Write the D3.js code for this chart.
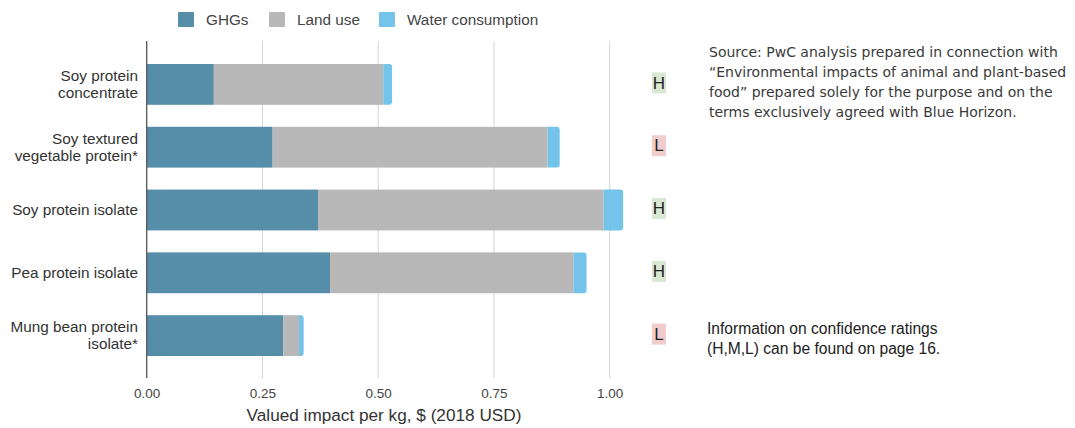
<!DOCTYPE html>
<html>
<head>
<meta charset="utf-8">
<script src="https://cdn.jsdelivr.net/npm/d3@7"></script>
<style>
  html, body { margin: 0; padding: 0; background: #fff; }
  svg { display: block; }
</style>
</head>
<body>
<svg id="chart" width="1075" height="428"></svg>
<script>
// Products, top to bottom
const categories = [
  ["Soy protein", "concentrate"],
  ["Soy textured", "vegetable protein*"],
  ["Soy protein isolate"],
  ["Pea protein isolate"],
  ["Mung bean protein", "isolate*"]
];
// Valued impact per kg, $ (2018 USD), by component
const ghgs  = [0.145, 0.272, 0.370, 0.396, 0.295];
const land  = [0.366, 0.594, 0.617, 0.526, 0.034];
const water = [0.019, 0.026, 0.042, 0.028, 0.010];
// Confidence ratings
const ratings = ["H", "L", "H", "H", "L"];
const seriesNames = ["GHGs", "Land use", "Water consumption"];
const tickValues = [0, 0.25, 0.5, 0.75, 1.0];

const colors = ["#568ea9", "#b8b8b8", "#74c3ea"];
const ratingFill = { H: "#d9e8d3", M: "#f3e3b9", L: "#f1cccd" };
const sans = "'Liberation Sans', Arial, sans-serif";

const svg = d3.select("#chart");
const x = d3.scaleLinear().domain([0, 1]).range([146.7, 609.7]);
const y = d3.scaleBand().domain(d3.range(categories.length))
  .range([53, 367]).paddingInner(0.35).paddingOuter(0.175);
const plotTop = 41, plotBottom = 378;

// vertical gridlines
svg.append("g").selectAll("line").data(tickValues.slice(1)).join("line")
  .attr("x1", d => x(d)).attr("x2", d => x(d))
  .attr("y1", plotTop).attr("y2", plotBottom)
  .attr("stroke", "#d4d4d4").attr("stroke-width", 1);

// bottom axis: tick labels only
const axis = d3.axisBottom(x).tickValues(tickValues).tickFormat(d3.format(".2f")).tickSize(0).tickPadding(10);
const gx = svg.append("g").attr("transform", `translate(0,${plotBottom})`).call(axis);
gx.select(".domain").remove();
gx.selectAll("text").attr("font-family", sans)
  .attr("font-size", 13.5).attr("fill", "#444");

// stacked bars
const stackData = categories.map((c, i) => ({ i, v: [ghgs[i], land[i], water[i]] }));
const bars = svg.append("g");
stackData.forEach(d => {
  let x0 = 0;
  d.v.forEach((v, k) => {
    const xa = x(x0), xb = x(x0 + v), y0 = y(d.i), h = y.bandwidth();
    if (k < 2) {
      bars.append("rect").attr("x", xa).attr("y", y0).attr("width", xb - xa).attr("height", h)
        .attr("fill", colors[k]);
    } else {
      const r = Math.min(3, (xb - xa));
      const p = d3.path();
      p.moveTo(xa, y0);
      p.lineTo(xb - r, y0);
      p.arcTo(xb, y0, xb, y0 + r, r);
      p.lineTo(xb, y0 + h - r);
      p.arcTo(xb, y0 + h, xb - r, y0 + h, r);
      p.lineTo(xa, y0 + h);
      p.closePath();
      bars.append("path").attr("d", p.toString()).attr("fill", colors[k]);
    }
    x0 += v;
  });
});

// y axis line
svg.append("line").attr("x1", x(0)).attr("x2", x(0)).attr("y1", plotTop).attr("y2", plotBottom)
  .attr("stroke", "#555").attr("stroke-width", 1.3);

// category labels
const labels = svg.append("g").attr("font-family", sans)
  .attr("font-size", 15.3).attr("fill", "#333").attr("text-anchor", "end");
categories.forEach((lines, i) => {
  const cy = y(i) + y.bandwidth() / 2;
  const lh = 17;
  lines.forEach((t, j) => {
    labels.append("text").attr("x", 138)
      .attr("y", cy + (j - (lines.length - 1) / 2) * lh)
      .attr("dy", "0.35em").text(t);
  });
});

// axis title
svg.append("text").attr("x", 384).attr("y", 421).attr("text-anchor", "middle")
  .attr("font-family", sans).attr("font-size", 17.2)
  .attr("fill", "#333").text("Valued impact per kg, $ (2018 USD)");

// legend
const legendX = [178, 269, 379];
const lg = svg.append("g").attr("font-family", sans)
  .attr("font-size", 15.3).attr("fill", "#444");
seriesNames.forEach((n, k) => {
  lg.append("rect").attr("x", legendX[k]).attr("y", 12).attr("width", 16).attr("height", 15)
    .attr("rx", 1).attr("fill", colors[k]);
  lg.append("text").attr("x", legendX[k] + 28).attr("y", 19.5).attr("dy", "0.35em").text(n);
});

// confidence rating badges
const rg = svg.append("g");
ratings.forEach((r, i) => {
  const cy = y(i) + y.bandwidth() / 2 - 2;
  rg.append("rect").attr("x", 652).attr("y", cy - 10).attr("width", 14).attr("height", 21)
    .attr("fill", ratingFill[r]);
  rg.append("text").attr("x", 659).attr("y", cy).attr("dy", "0.36em").attr("text-anchor", "middle")
    .attr("font-family", sans).attr("font-size", 17)
    .attr("fill", "#222").text(r);
});

// source note
const sourceLines = [
  "Source: PwC analysis prepared in connection with",
  "\u201CEnvironmental impacts of animal and plant-based",
  "food\u201D prepared solely for the purpose and on the",
  "terms exclusively agreed with Blue Horizon."
];
const sg = svg.append("g").attr("font-family", "'DejaVu Sans', sans-serif").attr("font-size", 14)
  .attr("fill", "#3a3a3a");
sourceLines.forEach((t, j) => {
  sg.append("text").attr("x", 709).attr("y", 52.5 + j * 19.8).attr("dy", "0.35em").text(t);
});

// ratings note
const noteLines = ["Information on confidence ratings", "(H,M,L) can be found on page 16."];
const ng = svg.append("g").attr("font-family", sans).attr("font-size", 15.6)
  .attr("fill", "#222");
noteLines.forEach((t, j) => {
  ng.append("text").attr("x", 707).attr("y", 329 + j * 19.5).attr("dy", "0.35em").text(t);
});
</script>
</body>
</html>
